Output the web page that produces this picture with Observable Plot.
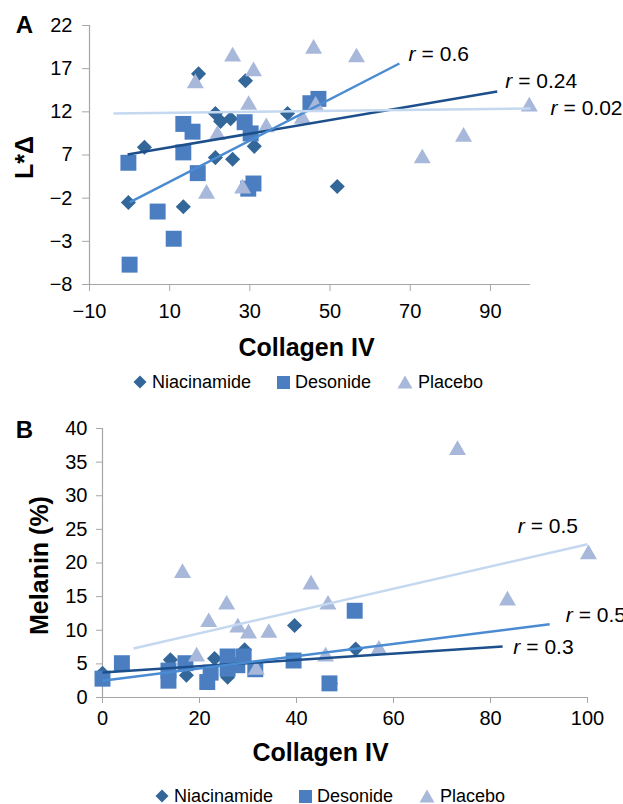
<!DOCTYPE html>
<html>
<head>
<meta charset="utf-8">
<script src="https://cdn.jsdelivr.net/npm/d3@7"></script>
<script src="https://cdn.jsdelivr.net/npm/@observablehq/plot@0.6"></script>
<style>
  html, body { margin: 0; padding: 0; background: #fff; overflow: hidden; }
  #root { position: relative; width: 623px; height: 804px; overflow: hidden; font-family: "Liberation Sans", Arial, sans-serif; }
  .panel { position: absolute; left: 0; }
  .legend { position: absolute; left: 0; display: flex; justify-content: center; align-items: center; font-size: 18px; color: #000; }
  .legend .item { display: flex; align-items: center; }
  .legend .item + .item { margin-left: 26px; }
  .legend svg { margin-right: 5px; }
</style>
</head>
<body>
<div id="root"></div>
<script>
// ---------- Data ----------
const seriesNames = ["Niacinamide", "Desonide", "Placebo"];

// Panel A: Collagen IV vs L*Δ
const niaA_x = [-0.3, 3.7, 13.4, 17.2, 21.4, 22.7, 25.2, 21.4, 25.7, 28.9, 31.1, 39.4, 51.8];
const niaA_y = [1.5, 7.9, 1.0, 16.4, 11.8, 10.9, 11.2, 6.7, 6.5, 15.6, 8.0, 11.8, 3.35];
const desA_x = [-0.3, 13.4, 15.7, 13.4, 17.0, 7.0, 11.0, 0.0, 28.7, 30.2, 30.9, 29.6, 45.1, 47.1];
const desA_y = [6.1, 10.6, 9.7, 7.3, 4.9, 0.45, -2.7, -5.7, 10.8, 9.5, 3.7, 3.1, 13.0, 13.5];
const plaA_x = [25.7, 30.9, 16.4, 29.7, 21.9, 34.1, 19.2, 28.2, 45.9, 56.6, 99.7, 83.3, 73.0, 43.1, 46.4];
const plaA_y = [18.4, 16.7, 15.3, 12.8, 9.3, 10.2, 2.5, 3.1, 19.3, 18.3, 12.6, 9.1, 6.6, 11.2, 12.7];
// trend lines [x1, y1, x2, y2]
const trendNiaA = [-0.5, 7.06, 91.7, 14.35];
const trendDesA = [0.0, 1.5, 67.3, 17.6];
const trendPlaA = [-4.0, 11.8, 100.0, 12.4];
// r labels
const rLabelsA = ["= 0.6", "= 0.24", "= 0.02"];
const rLabelsA_x = [69.6, 93.7, 105.0];
const rLabelsA_y = [18.7, 15.5, 12.4];
// axes
const xDomainA = [-10, 100];
const yDomainA = [-8, 22];
const xTicksA = [-10, 10, 30, 50, 70, 90];
const xTickLabelsA = ["−10", "10", "30", "50", "70", "90"];
const yTicksA = [-8, -3, 2, 7, 12, 17, 22];
const yTickLabelsA = ["−8", "−3", "−2", "7", "12", "17", "22"];

// Panel B: Collagen IV vs Melanin (%)
const niaB_x = [39.6, 52.2, 47.0, 14.0, 17.3, 23.1, 25.8, 29.3, 0.0];
const niaB_y = [10.7, 7.2, 2.1, 5.6, 3.3, 5.8, 3.0, 7.1, 3.6];
const desB_x = [0.0, 4.0, 13.6, 13.6, 17.1, 21.6, 22.3, 25.8, 25.8, 27.8, 29.1, 31.5, 39.4, 52.0, 46.8];
const desB_y = [2.8, 5.1, 4.0, 2.5, 5.1, 2.3, 3.7, 6.1, 4.3, 4.8, 6.1, 4.2, 5.5, 12.9, 2.1];
const plaB_x = [73.2, 100.2, 83.5, 43.0, 46.5, 46.0, 57.0, 16.5, 25.6, 21.9, 27.9, 30.1, 34.3, 19.4, 31.7];
const plaB_y = [36.8, 21.3, 14.4, 16.8, 13.8, 6.1, 7.1, 18.5, 13.8, 11.2, 10.4, 9.5, 9.6, 6.1, 4.1];
const trendNiaB = [0.0, 3.7, 82.5, 7.6];
const trendDesB = [0.0, 2.5, 92.2, 10.9];
const trendPlaB = [6.4, 7.3, 100.0, 22.8];
const rLabelsB = ["= 0.5", "= 0.5", "= 0.3"];
const rLabelsB_x = [85.6, 95.5, 84.7];
const rLabelsB_y = [25.4, 12.2, 7.4];
const xDomainB = [0, 100];
const yDomainB = [0, 40];
const xTicksB = [0, 20, 40, 60, 80, 100];
const yTicksB = [0, 5, 10, 15, 20, 25, 30, 35, 40];

// ---------- Styles ----------
const FONT = "'Liberation Sans', Arial, sans-serif";
const AXIS = "#A6A6A6";
const C_NIA = "#336699";
const C_DES = "#4A7EC1";
const C_PLA = "#A8B8DA";
const L_NIA = "#1C4F8B";
const L_DES = "#4A8BD1";
const L_PLA = "#C4D8EF";

const zip = (xs, ys) => xs.map((x, i) => ({x, y: ys[i]}));
const seg = (t) => [{x1: t[0], y1: t[1], x2: t[2], y2: t[3]}];
const labels = (txt, xs, ys) => txt.map((t, i) => ({t, x: xs[i], y: ys[i]}));

function panel(cfg) {
  const lab = labels(cfg.rText, cfg.rx, cfg.ry);
  return Plot.plot({
    width: 623,
    height: cfg.height,
    marginTop: cfg.mt, marginBottom: cfg.mb, marginLeft: cfg.ml, marginRight: cfg.mr,
    x: {domain: cfg.xDomain},
    y: {domain: cfg.yDomain},
    style: {fontFamily: FONT, fontSize: "20px", color: "#000", background: "#fff", overflow: "hidden"},
    marks: [
      Plot.ruleY([cfg.yDomain[0]], {stroke: AXIS, strokeWidth: 1.2}),
      Plot.ruleX([cfg.xDomain[0]], {stroke: AXIS, strokeWidth: 1.2}),
      Plot.axisX(cfg.xTicks, {tickSize: cfg.xTickSize, tickPadding: cfg.xPad, stroke: AXIS, fill: "#000", fontSize: 20,
        tickFormat: cfg.xFmt, label: null}),
      Plot.axisY(cfg.yTicks, {tickSize: cfg.yTickSize, tickPadding: cfg.yPad, stroke: AXIS, fill: "#000", fontSize: 20,
        tickFormat: cfg.yFmt, label: null}),
      Plot.dot(cfg.nia, {x: "x", y: "y", symbol: "diamond2", r: 6.8, fill: C_NIA}),
      Plot.dot(cfg.des, {x: "x", y: "y", symbol: "square", r: 9, fill: C_DES}),
      Plot.dot(cfg.pla, {x: "x", y: "y", symbol: "triangle", r: 6.3, fill: C_PLA}),
      Plot.link(seg(cfg.tNia), {x1: "x1", y1: "y1", x2: "x2", y2: "y2", stroke: L_NIA, strokeWidth: 2.5}),
      Plot.link(seg(cfg.tDes), {x1: "x1", y1: "y1", x2: "x2", y2: "y2", stroke: L_DES, strokeWidth: 2.5}),
      Plot.link(seg(cfg.tPla), {x1: "x1", y1: "y1", x2: "x2", y2: "y2", stroke: L_PLA, strokeWidth: 2.5}),
      Plot.text(lab, {x: "x", y: "y", text: () => "r", fontStyle: "italic", fontSize: 21, textAnchor: "start", lineAnchor: "middle", fill: "#000"}),
      Plot.text(lab, {x: "x", y: "y", text: "t", dx: 13, fontSize: 21, textAnchor: "start", lineAnchor: "middle", fill: "#000"}),
      Plot.text([cfg.letter], {frameAnchor: "top-left", dx: cfg.letterDx, dy: cfg.letterDy, fontSize: 24, fontWeight: "bold", textAnchor: "middle", lineAnchor: "middle", fill: "#000"}),
      Plot.text(["Collagen IV"], {frameAnchor: "top-left", dx: cfg.xtDx, dy: cfg.xtDy, fontSize: 25, fontWeight: "bold", textAnchor: "middle", lineAnchor: "middle", fill: "#000"}),
      Plot.text([cfg.yTitle], {frameAnchor: "top-left", dx: cfg.ytDx, dy: cfg.ytDy, rotate: -90, fontSize: 25, fontWeight: "bold", textAnchor: "middle", lineAnchor: "middle", fill: "#000"})
    ]
  });
}

function legend(top, height, width) {
  const div = document.createElement("div");
  div.className = "legend";
  div.style.top = top + "px";
  div.style.height = height + "px";
  div.style.width = width + "px";
  const shapes = [
    `<svg width="14" height="14" viewBox="0 0 14 14"><path d="M7 0.5 L13.5 7 L7 13.5 L0.5 7 Z" fill="${C_NIA}"/></svg>`,
    `<svg width="13" height="13" viewBox="0 0 13 13"><rect x="0" y="0" width="13" height="13" fill="${C_DES}"/></svg>`,
    `<svg width="16" height="14" viewBox="0 0 16 14"><path d="M8 0.5 L15.5 13.5 L0.5 13.5 Z" fill="${C_PLA}"/></svg>`
  ];
  seriesNames.forEach((name, i) => {
    const it = document.createElement("div");
    it.className = "item";
    it.innerHTML = shapes[i] + `<span>${name}</span>`;
    div.appendChild(it);
  });
  return div;
}

const root = document.getElementById("root");

const plotA = panel({
  height: 370, mt: 25, mb: 86, ml: 89, mr: 93,
  xDomain: xDomainA, yDomain: yDomainA,
  xTicks: xTicksA, yTicks: yTicksA,
  xFmt: d => xTickLabelsA[xTicksA.indexOf(d)],
  yFmt: d => yTickLabelsA[yTicksA.indexOf(d)],
  xTickSize: 7, xPad: 12, yTickSize: 7, yPad: 10,
  nia: zip(niaA_x, niaA_y), des: zip(desA_x, desA_y), pla: zip(plaA_x, plaA_y),
  tNia: trendNiaA, tDes: trendDesA, tPla: trendPlaA,
  rText: rLabelsA, rx: rLabelsA_x, ry: rLabelsA_y,
  letter: "A", letterDx: -65, letterDy: 0,
  xtDx: 217, xtDy: 322,
  yTitle: "L*Δ", ytDx: -65, ytDy: 132
});
plotA.classList.add("panel");
plotA.style.top = "0px";
root.appendChild(plotA);
root.appendChild(legend(370, 24, 616));

const plotB = panel({
  height: 390, mt: 33, mb: 88, ml: 102, mr: 36,
  xDomain: xDomainB, yDomain: yDomainB,
  xTicks: xTicksB, yTicks: yTicksB,
  xFmt: d => String(d), yFmt: d => String(d),
  xTickSize: 6, xPad: 7, yTickSize: 6, yPad: 9,
  nia: zip(niaB_x, niaB_y), des: zip(desB_x, desB_y), pla: zip(plaB_x, plaB_y),
  tNia: trendNiaB, tDes: trendDesB, tPla: trendPlaB,
  rText: rLabelsB, rx: rLabelsB_x, ry: rLabelsB_y,
  letter: "B", letterDx: -78, letterDy: 2,
  xtDx: 218, xtDy: 324,
  yTitle: "Melanin (%)", ytDx: -63, ytDy: 137
});
plotB.classList.add("panel");
plotB.style.top = "395px";
root.appendChild(plotB);
root.appendChild(legend(785, 22, 660));
</script>
</body>
</html>
